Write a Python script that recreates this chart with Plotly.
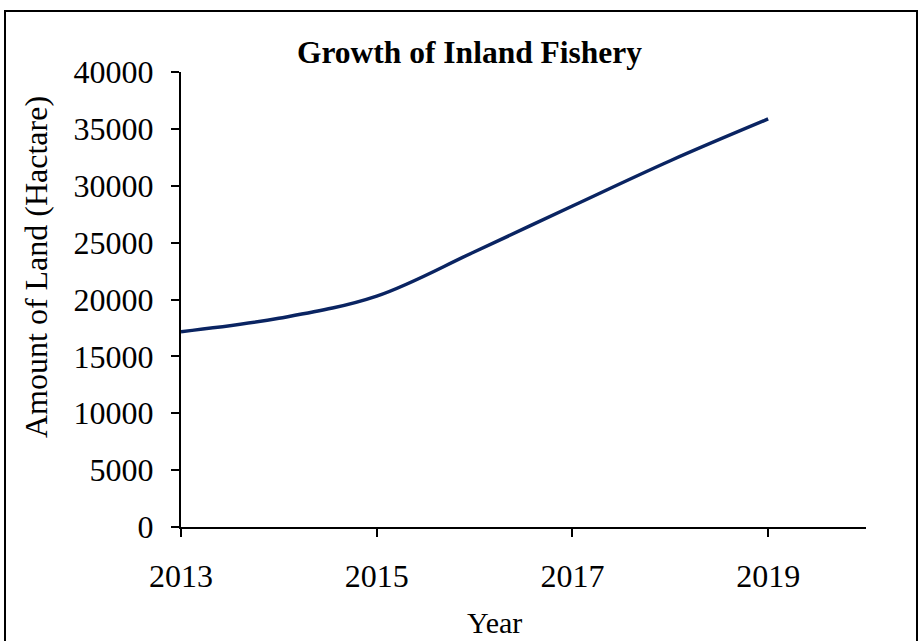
import plotly.graph_objects as go

# Inland fishery land area by year
years = [2013, 2014, 2015, 2016, 2017, 2018, 2019]
land_hectare = [17170, 18350, 20300, 24200, 28220, 32200, 35870]

x_tick_vals = [2013, 2015, 2017, 2019]
y_tick_vals = [0, 5000, 10000, 15000, 20000, 25000, 30000, 35000, 40000]

W, H = 921, 641
ML, MR, MT, MB = 181, 55, 72, 114
PW, PH = W - ML - MR, H - MT - MB

serif = "Liberation Serif, Times New Roman, serif"

fig = go.Figure()
fig.add_trace(go.Scatter(
    x=years, y=land_hectare, mode="lines",
    line=dict(color="#0a2462", width=3.5, shape="spline", smoothing=1.0),
    showlegend=False, hoverinfo="x+y",
))


def px_to_paper_x(px):
    return (px - ML) / PW


def px_to_paper_y(py):
    return (H - MB - py) / PH


# outer frame around the whole chart
fig.add_shape(type="rect", xref="paper", yref="paper",
              x0=px_to_paper_x(5), x1=px_to_paper_x(917),
              y0=px_to_paper_y(670), y1=px_to_paper_y(11),
              line=dict(color="black", width=2), fillcolor="rgba(0,0,0,0)",
              layer="below")

# axis titles placed as free text
fig.add_annotation(text="Amount of Land (Hactare)", xref="paper", yref="paper",
                   x=px_to_paper_x(36), y=px_to_paper_y(267), textangle=-90,
                   showarrow=False, xanchor="center", yanchor="middle",
                   font=dict(family=serif, size=32, color="black"))
fig.add_annotation(text="Year", xref="paper", yref="paper",
                   x=px_to_paper_x(494), y=px_to_paper_y(622),
                   showarrow=False, xanchor="center", yanchor="middle",
                   font=dict(family=serif, size=30, color="black"))

fig.update_layout(
    width=W, height=H,
    margin=dict(l=ML, r=MR, t=MT, b=MB, autoexpand=False),
    paper_bgcolor="white", plot_bgcolor="white",
    font=dict(family=serif, color="black"),
    title=dict(text="<b>Growth of Inland Fishery</b>",
               font=dict(family=serif, size=31.5, color="black"),
               x=469.5 / W, xanchor="center",
               y=1 - 52 / H, yanchor="middle", yref="container"),
)

fig.update_xaxes(
    range=[2013, 2020], tickvals=x_tick_vals, ticktext=[str(v) for v in x_tick_vals],
    showline=True, linecolor="black", linewidth=2,
    ticks="outside", ticklen=8, tickwidth=1.5, tickcolor="black",
    tickfont=dict(family=serif, size=32, color="black"),
    ticklabelstandoff=12,
    showgrid=False, zeroline=False, automargin=False,
)
fig.update_yaxes(
    range=[0, 40000], tickvals=y_tick_vals, ticktext=[str(v) for v in y_tick_vals],
    showline=True, linecolor="black", linewidth=2,
    ticks="outside", ticklen=8, tickwidth=1.5, tickcolor="black",
    tickfont=dict(family=serif, size=32, color="black"),
    ticklabelstandoff=11,
    showgrid=False, zeroline=False, automargin=False,
)

fig.write_html("out.html")
